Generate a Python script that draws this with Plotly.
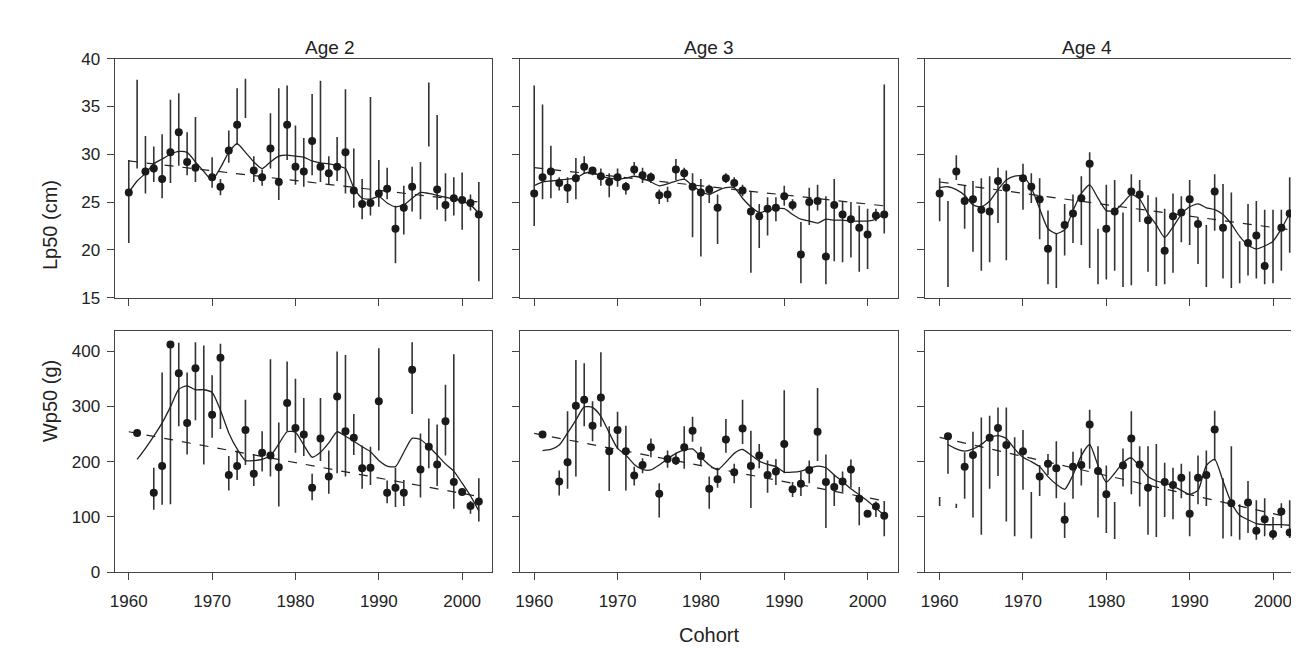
import plotly.graph_objects as go

years = list(range(1960, 2003))

# ---- Lp50 (cm), age 2 ----
lp2_val = [26.0, None, 28.2, 28.5, 27.4, 30.2, 32.3, 29.2, 28.6, None,
           27.6, 26.6, 30.4, 33.1, None, 28.3, 27.6, 30.6, 27.1, 33.1,
           28.7, 28.2, 31.4, 28.7, 28.0, 28.7, 30.2, 26.2, 24.8, 24.9,
           25.9, 26.4, 22.2, 24.4, 26.6, None, None, 26.3, 24.7, 25.4,
           25.2, 24.9, 23.7]
lp2_hi = [29.4, 37.8, 31.9, 30.8, 32.1, 35.7, 36.4, 32.3, 33.9, None,
          29.7, 27.4, 32.5, 36.9, 37.9, 29.8, 28.4, 34.3, 36.9, 37.2,
          33.0, 31.7, 36.3, 37.7, 29.8, 31.8, 36.8, 30.6, 27.4, 36.0,
          29.4, 28.6, 24.6, 26.7, 28.7, 29.2, 37.5, 34.1, 28.0, 27.6,
          28.1, 25.8, 27.1]
lp2_lo = [20.7, 28.5, 25.9, 27.1, 25.4, 27.0, 28.8, 27.8, 27.1, None,
          26.5, 25.7, 29.1, 31.0, 33.8, 27.1, 26.7, 28.5, 25.2, 29.4,
          26.8, 26.6, 27.8, 27.1, 26.8, 27.2, 25.9, 24.4, 23.2, 23.6,
          24.5, 25.3, 18.6, 21.6, 24.0, 23.2, 30.8, 24.2, 23.0, 23.6,
          22.1, 24.1, 16.7]
lp2_smooth = [26.0, 27.2, 28.0, 29.0, 29.5, 30.0, 30.3, 30.2, 29.2, 28.2,
              27.3, 28.6, 30.2, 31.1, 30.2, 29.2, 28.5, 29.2, 29.8, 29.9,
              29.8, 29.7, 29.3, 29.1, 29.0, 28.8, 28.5, 26.5, 25.4, 25.3,
              25.6, 24.9, 24.5, 24.7, 25.4, 26.0, 25.9, 25.7, 25.5, 25.3,
              25.1, 24.7, 23.8]
lp2_trend = [29.3, 25.0]

# ---- Lp50 (cm), age 3 ----
lp3_val = [25.9, 27.6, 28.2, 27.0, 26.5, 27.5, 28.7, 28.3, 27.7, 27.1,
           27.6, 26.6, 28.4, 27.8, 27.6, 25.7, 25.8, 28.4, 28.0, 26.6,
           26.0, 26.3, 24.4, 27.5, 27.0, 26.2, 24.0, 23.5, 24.3, 24.4,
           25.6, 24.7, 19.5, 25.0, 25.1, 19.3, 24.7, 23.7, 23.2, 22.3,
           21.6, 23.6, 23.7]
lp3_hi = [37.2, 35.2, 30.9, 27.6, 27.6, 29.6, 29.8, 28.6, 28.5, 28.0,
          28.5, 27.1, 29.2, 28.6, 28.1, 26.3, 26.6, 29.5, 28.6, 28.0,
          27.4, 26.8, 25.8, 28.0, 27.6, 26.8, 26.1, 24.8, 25.5, 25.5,
          26.7, 25.3, 22.9, 26.5, 26.8, 25.6, 27.4, 25.0, 25.0, 24.6,
          24.3, 24.3, 37.3]
lp3_lo = [22.5, 25.3, 25.4, 26.2, 24.9, 25.3, 28.0, 27.8, 26.7, 25.5,
          26.6, 25.8, 27.8, 27.0, 27.0, 24.8, 25.0, 27.3, 27.3, 21.3,
          19.3, 24.9, 20.6, 27.0, 26.5, 25.6, 17.6, 20.2, 21.5, 23.0,
          24.6, 24.1, 16.5, 22.6, 24.1, 16.4, 18.8, 18.7, 19.2, 17.7,
          18.0, 23.0, 21.7]
lp3_smooth = [26.7, 27.1, 27.2, 27.3, 27.4, 27.5, 28.0, 28.1, 27.7, 27.5,
              27.4, 27.5, 27.7, 27.5, 27.1, 26.7, 26.9, 27.2, 27.4, 26.7,
              26.1, 25.8, 26.2, 26.5, 26.5, 25.4, 24.5, 23.9, 24.1, 24.3,
              24.3, 23.7, 23.2, 23.0, 22.8, 23.2, 23.1, 23.1, 23.0, 23.0,
              23.0, 23.2, 23.8]
lp3_trend = [28.6, 24.6]

# ---- Lp50 (cm), age 4 ----
lp4_val = [25.9, None, 28.2, 25.1, 25.3, 24.2, 24.0, 27.2, 26.5, None,
           27.5, 26.6, 25.3, 20.1, None, 22.6, 23.8, 25.4, 29.0, None,
           22.2, 24.0, None, 26.1, 25.8, 23.1, None, 19.9, 23.5, 23.9,
           25.3, 22.7, None, 26.1, 22.3, None, None, 20.7, 21.5, 18.3,
           None, 22.3, 23.8]
lp4_hi = [27.5, 25.1, 29.9, 26.7, 27.2, 27.5, 27.7, 28.6, 28.3, None,
          29.0, 28.0, 27.5, 24.1, 21.7, 24.8, 25.8, 27.7, 30.2, 22.2,
          26.8, 27.3, 23.9, 27.9, 27.3, 25.7, 25.5, 24.3, 25.9, 25.6,
          27.3, 23.4, 22.6, 27.9, 26.9, 26.0, 20.9, 24.8, 25.1, 24.2,
          24.2, 24.2, 27.6]
lp4_lo = [23.0, 16.1, 27.3, 22.2, 19.8, 17.8, 18.7, 22.8, 18.9, None,
          24.2, 24.9, 21.1, 16.4, 16.0, 19.4, 20.7, 20.5, 18.1, 16.4,
          16.9, 17.8, 16.1, 16.3, 22.9, 17.7, 16.2, 16.4, 17.6, 20.8,
          20.5, 18.5, 16.1, 22.0, 17.0, 16.0, 16.5, 17.3, 17.0, 16.4,
          16.5, 17.8, 19.7]
lp4_smooth = [26.5, 26.6, 26.3, 25.7, 24.7, 24.5, 25.1, 26.3, 27.3, 27.7,
              27.7, 26.5, 24.3, 22.2, 21.7, 22.1, 24.1, 25.9, 26.8, 25.4,
              24.1, 24.1, 24.9, 25.8, 25.3, 23.8, 22.6, 21.3, 22.4, 23.7,
              24.5, 24.8, 24.4, 24.2, 23.7, 22.7, 21.4, 20.5, 20.1, 20.4,
              20.9, 22.2, 23.8]
lp4_trend = [27.1, 22.1]

# ---- Wp50 (g), age 2 ----
wp2_val = [None, 252, None, 144, 192, 412, 360, 270, 369, None,
           285, 388, 176, 192, 257, 178, 216, 211, 190, 306,
           261, 249, 153, 242, 173, 318, 255, 243, 188, 189,
           309, 144, 153, 144, 366, 186, 227, 195, 273, 163,
           145, 120, 128]
wp2_hi = [None, 258, None, 189, 361, 412, 415, 361, 416, 410,
          356, 413, 210, 220, 312, 214, 255, 385, 271, 381,
          350, 315, 178, 315, 220, 399, 393, 286, 229, 227,
          405, 166, 189, 167, 416, 251, 278, 267, 339, 394,
          None, 129, 170]
wp2_lo = [None, 246, None, 113, 122, 123, 264, 213, 275, 195,
          243, 259, 148, 167, 194, 156, 182, 173, 119, 255,
          216, 210, 130, 201, 142, 179, 173, 212, 151, 158,
          220, 125, 118, 120, 286, 135, 188, 156, 211, 115,
          None, 106, 92]
wp2_smooth = [None, 204, 224, 246, 270, 299, 331, 337, 330, 330,
              325, 293, 252, 223, 202, 202, 204, 211, 232, 254,
              253, 230, 208, 217, 234, 254, 246, 237, 227, 218,
              202, 192, 191, 217, 242, 240, 227, 212, 196, 183,
              161, 138, 111]
wp2_trend = [254, 137]

# ---- Wp50 (g), age 3 ----
wp3_val = [None, 249, None, 164, 199, 301, 312, 265, 316, 219,
           257, 219, 175, 194, 226, 142, 205, 202, 226, 256,
           210, 151, 168, 240, 181, 260, 192, 211, 176, 182,
           232, 150, 160, 185, 254, 163, 154, 164, 186, 133,
           106, 119, 102]
wp3_hi = [None, 255, None, 184, 291, 384, 378, 309, 398, 264,
          290, 265, 191, 206, 242, 161, 220, 216, 264, 281,
          227, 173, 189, 277, 196, 312, 256, 232, 202, 205,
          329, 163, 182, 202, 333, 213, 177, 182, 204, 154,
          None, 128, 129]
wp3_lo = [None, 243, None, 139, 151, 173, 264, 237, 263, 147,
          223, 148, 157, 179, 208, 99, 189, 194, 187, 236,
          194, 115, 153, 216, 161, 232, 116, 188, 144, 158,
          179, 136, 138, 161, 201, 80, 120, 145, 153, 85,
          None, 100, 65]
wp3_smooth = [None, 220, 222, 230, 252, 275, 299, 298, 282, 252,
              224, 212, 195, 186, 185, 194, 205, 215, 221, 223,
              208, 194, 185, 199, 215, 222, 212, 201, 195, 191,
              181, 181, 183, 188, 192, 189, 176, 164, 151, 140,
              129, 116, 103]
wp3_trend = [251, 129]

# ---- Wp50 (g), age 4 ----
wp4_val = [None, 246, None, 191, 212, None, 243, 261, 230, None,
           219, None, 173, 196, 188, 95, 191, 194, 267, 183,
           141, None, 193, 242, 195, 153, None, 163, 158, 171,
           106, 171, 176, 258, None, 125, None, 126, 75, 96,
           69, 110, 72]
wp4_hi = [136, 246, 124, 217, 254, 280, 283, 298, 298, 244,
          257, 145, 194, 214, 237, 126, 218, 224, 294, 228,
          193, 127, 224, 291, 228, 228, 232, 198, 189, 196,
          182, 211, 220, 292, 170, 228, 123, 165, 130, 134,
          100, 125, 130]
wp4_lo = [120, 178, 116, 133, 99, 68, 151, 174, 92, 65,
          149, 61, 138, 176, 134, 62, 133, 157, 187, 99,
          71, 60, 155, 141, 119, 68, 64, 100, 96, 134,
          65, 123, 120, 202, 61, 65, 59, 71, 59, 65,
          59, 80, 62]
wp4_smooth = [None, 231, 223, 219, 223, 231, 243, 247, 242, 223,
              208, 200, 191, 173, 159, 150, 176, 211, 231, 193,
              163, 179, 198, 207, 191, 173, 165, 161, 156, 148,
              141, 148, 193, 204, 165, 126, 103, 95, 88, 86,
              86, 86, 85]
wp4_trend = [244, 99]

trend_years = [1960, 2002]
panel_titles = ["Age 2", "Age 3", "Age 4"]

panels = [
    (lp2_val, lp2_hi, lp2_lo, lp2_smooth, lp2_trend),
    (lp3_val, lp3_hi, lp3_lo, lp3_smooth, lp3_trend),
    (lp4_val, lp4_hi, lp4_lo, lp4_smooth, lp4_trend),
    (wp2_val, wp2_hi, wp2_lo, wp2_smooth, wp2_trend),
    (wp3_val, wp3_hi, wp3_lo, wp3_smooth, wp3_trend),
    (wp4_val, wp4_hi, wp4_lo, wp4_smooth, wp4_trend),
]

W, H = 1299, 650
x_px = [(102, 481), (509, 888), (916, 1295)]
y_px = [(43, 289), (323, 572)]
ink = "#222222"
font_family = "Liberation Sans, Arial, sans-serif"

fig = go.Figure()
layout = {}
for i, (val, hi, lo, smooth, trend) in enumerate(panels):
    row, col = divmod(i, 3)
    n = i + 1
    xa = "x" if n == 1 else f"x{n}"
    ya = "y" if n == 1 else f"y{n}"

    # vertical interval lines
    bx, by = [], []
    for yr, h, l in zip(years, hi, lo):
        if h is None:
            continue
        bx += [yr, yr, None]
        by += [l, h, None]
    fig.add_trace(go.Scatter(x=bx, y=by, mode="lines", xaxis=xa, yaxis=ya,
                             line=dict(color="#333333", width=1.6), hoverinfo="skip"))
    fig.add_trace(go.Scatter(x=trend_years, y=trend, mode="lines", xaxis=xa, yaxis=ya,
                             line=dict(color=ink, width=1.2, dash="dash")))
    fig.add_trace(go.Scatter(x=years, y=smooth, mode="lines", xaxis=xa, yaxis=ya,
                             line=dict(color=ink, width=1.3, shape="spline", smoothing=0.6)))
    fig.add_trace(go.Scatter(x=years, y=val, mode="markers", xaxis=xa, yaxis=ya,
                             marker=dict(color="#1a1a1a", size=8)))

    x0, x1 = x_px[col]
    y0, y1 = y_px[row]
    common = dict(showline=True, mirror=True, linecolor="#444444", linewidth=1.2,
                  ticks="outside", ticklen=7, tickcolor="#444444", showgrid=False,
                  zeroline=False, tickfont=dict(size=17, color=ink))
    layout["xaxis" if n == 1 else f"xaxis{n}"] = dict(
        domain=[x0 / W, x1 / W], anchor=ya, range=[1958.3, 2003.6],
        tickvals=[1960, 1970, 1980, 1990, 2000], showticklabels=(row == 1),
        ticklabelstandoff=6, **common)
    if row == 0:
        yr_kw = dict(range=[15, 40], tickvals=[15, 20, 25, 30, 35, 40])
    else:
        yr_kw = dict(range=[0, 437], tickvals=[0, 100, 200, 300, 400])
    layout["yaxis" if n == 1 else f"yaxis{n}"] = dict(
        domain=[1 - y1 / H, 1 - y0 / H], anchor=xa, showticklabels=(col == 0),
        ticklabelstandoff=3, **yr_kw, **common)

annotations = []
for col, t in enumerate(panel_titles):
    x0, x1 = x_px[col]
    annotations.append(dict(text=t, x=(x0 + x1) / 2 / W, y=1 - 19 / H, xref="paper", yref="paper",
                            showarrow=False, font=dict(size=19, color=ink)))
annotations.append(dict(text="Cohort", x=(x_px[1][0] + x_px[1][1]) / 2 / W, y=0.0,
                        yanchor="bottom", xref="paper", yref="paper", showarrow=False,
                        font=dict(size=20, color=ink)))
annotations.append(dict(text="Lp50 (cm)", x=24 / W, y=1 - 166 / H, xref="paper", yref="paper",
                        showarrow=False, textangle=-90, font=dict(size=20, color=ink)))
annotations.append(dict(text="Wp50 (g)", x=24 / W, y=1 - 440 / H, xref="paper", yref="paper",
                        showarrow=False, textangle=-90, font=dict(size=20, color=ink)))

fig.update_layout(width=W, height=H, margin=dict(l=0, r=0, t=0, b=0),
                  plot_bgcolor="white", paper_bgcolor="white", showlegend=False,
                  font=dict(family=font_family, color=ink), annotations=annotations, **layout)

fig.write_html("out.html")
